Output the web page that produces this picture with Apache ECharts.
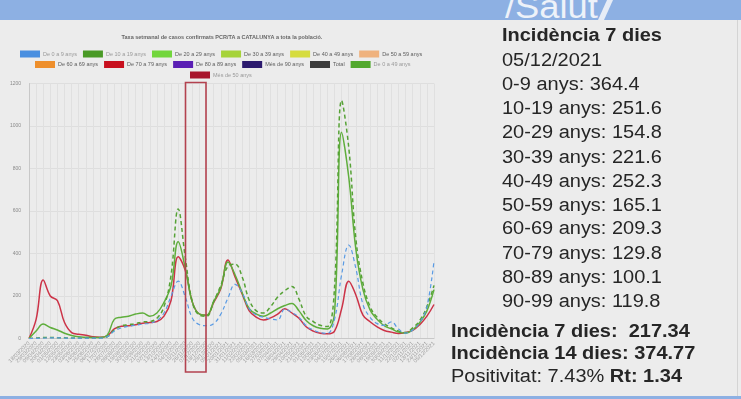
<!DOCTYPE html>
<html>
<head>
<meta charset="utf-8">
<script src="https://cdn.jsdelivr.net/npm/echarts@6/dist/echarts.min.js"></script>
<style>
  html, body { margin: 0; padding: 0; }
  #wrap { position: relative; width: 741px; height: 399px; background: #ececec; overflow: hidden;
          font-family: "Liberation Sans", Arial, sans-serif; }
  #banner { position: absolute; left: 0; top: 0; width: 741px; height: 20px; background: #8db0e3; overflow: hidden; }
  #salut { position: absolute; left: 505px; top: -10px; font-size: 33px; line-height: 33px; color: #eef2f9;
           transform: scaleX(1.1); transform-origin: left top; }
  #slash { position: absolute; left: 598px; top: 0; width: 20px; height: 20px; background: #e6ecf6;
           clip-path: polygon(9px 0, 15px 0, 6px 20px, 0 20px); }
  #chart { position: absolute; left: 0; top: 0; width: 741px; height: 399px; }
  #bottomline { position: absolute; left: 0; top: 396px; width: 741px; height: 3px; background: #8db0e3; }
  #rightedge { position: absolute; left: 737px; top: 20px; width: 1px; height: 376px; background: #d4d4d4; }
  .ln { position: absolute; font-size: 18px; line-height: 18px; color: #262626; white-space: pre;
        transform: scaleX(1.11); transform-origin: left top; }
  .b { font-weight: bold; }
</style>
</head>
<body>
<div id="wrap">
  <div id="banner"><div id="salut">/Salut</div><div id="slash"></div></div>
  <div id="chart"></div>
  <div id="bottomline"></div>
  <div id="rightedge"></div>
  <!-- panell de dades -->
  <div class="ln b" style="left:502px;top:26px">Incidència 7 dies</div>
  <div class="ln" style="left:502px;top:51px">05/12/2021</div>
  <div class="ln" style="left:502px;top:75px">0-9 anys: 364.4</div>
  <div class="ln" style="left:502px;top:99px">10-19 anys: 251.6</div>
  <div class="ln" style="left:502px;top:123px">20-29 anys: 154.8</div>
  <div class="ln" style="left:502px;top:148px">30-39 anys: 221.6</div>
  <div class="ln" style="left:502px;top:172px">40-49 anys: 252.3</div>
  <div class="ln" style="left:502px;top:196px">50-59 anys: 165.1</div>
  <div class="ln" style="left:502px;top:219px">60-69 anys: 209.3</div>
  <div class="ln" style="left:502px;top:244px">70-79 anys: 129.8</div>
  <div class="ln" style="left:502px;top:268px">80-89 anys: 100.1</div>
  <div class="ln" style="left:502px;top:292px">90-99 anys: 119.8</div>
  <div class="ln b" style="left:451px;top:322px">Incidència 7 dies:  217.34</div>
  <div class="ln b" style="left:451px;top:344px">Incidència 14 dies: 374.77</div>
  <div class="ln" style="left:451px;top:367px">Positivitat: 7.43% <b>Rt: 1.34</b></div>
</div>

<script>
// dates (category axis)
const categories = [
  '18/03/2020', '29/03/2020', '09/04/2020', '20/04/2020', '01/05/2020', '12/05/2020',
  '23/05/2020', '03/06/2020', '14/06/2020', '25/06/2020', '06/07/2020', '17/07/2020',
  '28/07/2020', '08/08/2020', '19/08/2020', '30/08/2020', '10/09/2020', '21/09/2020',
  '02/10/2020', '13/10/2020', '24/10/2020', '04/11/2020', '15/11/2020', '26/11/2020',
  '07/12/2020', '18/12/2020', '29/12/2020', '09/01/2021', '20/01/2021', '31/01/2021',
  '11/02/2021', '22/02/2021', '05/03/2021', '16/03/2021', '27/03/2021', '07/04/2021',
  '18/04/2021', '29/04/2021', '10/05/2021', '21/05/2021', '01/06/2021', '12/06/2021',
  '23/06/2021', '04/07/2021', '15/07/2021', '26/07/2021', '06/08/2021', '17/08/2021',
  '28/08/2021', '08/09/2021', '19/09/2021', '30/09/2021', '11/10/2021', '22/10/2021',
  '02/11/2021', '13/11/2021', '24/11/2021', '05/12/2021'
]

// taxa setmanal per grups d'edat
const de0a9 = [
  0, 1, 2, 3, 3, 2, 2, 2, 2, 2, 2, 8,
  35, 50, 58, 62, 68, 72, 85, 120, 200, 270, 195, 95,
  65, 60, 70, 115, 190, 255, 215, 140, 110, 100, 92, 88,
  138, 122, 100, 60, 40, 28, 24, 90, 300, 440, 330, 160,
  100, 70, 62, 78, 45, 25, 40, 75, 150, 365
]
const de10a19 = [
  0, 2, 5, 5, 4, 3, 2, 2, 2, 2, 3, 8,
  40, 60, 65, 70, 78, 80, 95, 150, 300, 610, 380, 170,
  110, 105, 175, 250, 340, 350, 290, 180, 130, 120, 150, 195,
  225, 245, 185, 105, 80, 62, 56, 240, 1120, 900, 470, 260,
  150, 100, 70, 50, 35, 28, 50, 85, 150, 250
]
const de0a49 = [
  0, 35, 68, 52, 40, 25, 14, 8, 6, 5, 5, 15,
  90, 100, 105, 115, 120, 105, 120, 170, 250, 455, 330, 170,
  115, 110, 175, 240, 360, 300, 215, 140, 115, 105, 120, 140,
  155, 165, 130, 85, 60, 48, 45, 120, 970, 760, 420, 230,
  135, 90, 60, 45, 30, 25, 40, 75, 130, 230
]
const mesDe50 = [
  0, 90, 275, 200, 178, 75, 28, 20, 15, 8, 6, 12,
  45, 58, 60, 65, 72, 75, 80, 105, 180, 385, 320, 170,
  115, 110, 170, 235, 370, 290, 210, 130, 100, 87, 97, 115,
  140, 120, 95, 55, 35, 25, 22, 35, 140, 270, 205, 110,
  79, 55, 38, 30, 24, 28, 38, 65, 105, 160
]

// files de la llegenda
const legendRow1 = ['De 0 a 9 anys', 'De 10 a 19 anys', 'De 20 a 29 anys', 'De 30 a 39 anys', 'De 40 a 49 anys', 'De 50 a 59 anys']
const legendRow2 = ['De 60 a 69 anys', 'De 70 a 79 anys', 'De 80 a 89 anys', 'Més de 90 anys', 'Total', 'De 0 a 49 anys']
const legendRow3 = ['Més de 50 anys']

const colors = {
  'De 0 a 9 anys': '#4a8fe0',
  'De 10 a 19 anys': '#4a9a26',
  'De 20 a 29 anys': '#72d63c',
  'De 30 a 39 anys': '#a6d33a',
  'De 40 a 49 anys': '#d6dc3e',
  'De 50 a 59 anys': '#efb27e',
  'De 60 a 69 anys': '#ee8f2c',
  'De 70 a 79 anys': '#c8101e',
  'De 80 a 89 anys': '#5a1fb4',
  'Més de 90 anys': '#2c1a6e',
  'Total': '#3c3c3c',
  'De 0 a 49 anys': '#52a82e',
  'Més de 50 anys': '#a8142c'
}
// series amagades (ratllades a la llegenda)
const hidden = ['De 20 a 29 anys', 'De 30 a 39 anys', 'De 40 a 49 anys', 'De 50 a 59 anys',
  'De 60 a 69 anys', 'De 70 a 79 anys', 'De 80 a 89 anys', 'Més de 90 anys', 'Total']

const chart = echarts.init(document.getElementById('chart'))

const legendItems = (names) => names.map(n => ({
  name: n,
  textStyle: { color: hidden.includes(n) ? '#5c5c5c' : '#999' }
}))
const legendBase = {
  orient: 'horizontal',
  icon: 'rect',
  itemWidth: 20,
  itemHeight: 7,
  itemGap: 6,
  padding: 0,
  selectedMode: false,
  textStyle: { fontSize: 5.5, padding: [0, 0, 0, -2] }
}

const lineSeries = (name, data, dashed, width, lineColor) => ({
  name: name,
  type: 'line',
  data: data,
  smooth: 0.4,
  symbol: 'none',
  color: colors[name],
  lineStyle: { color: lineColor, width: width, type: dashed ? [4, 3] : 'solid' }
})

const option = {
  animation: false,
  title: {
    text: 'Taxa setmanal de casos confirmats PCR/TA a CATALUNYA a tota la població.',
    left: 222,
    top: 34.5,
    padding: 0,
    textAlign: 'center',
    textStyle: { fontSize: 5.5, color: '#666', fontWeight: 'bold' }
  },
  legend: [
    Object.assign({}, legendBase, { left: 20, top: 50.5, data: legendItems(legendRow1) }),
    Object.assign({}, legendBase, { left: 35, top: 61, data: legendItems(legendRow2) }),
    Object.assign({}, legendBase, { left: 190, top: 71.5, data: legendItems(legendRow3) })
  ],
  grid: { left: 29, right: 307, top: 83.5, bottom: 60.5 },
  xAxis: {
    type: 'category',
    boundaryGap: false,
    data: categories,
    axisLine: { lineStyle: { color: '#c8c8c8' } },
    axisTick: { show: false },
    axisLabel: { interval: 0, rotate: 45, fontSize: 5.5, color: '#9c9c9c', margin: 4 },
    splitLine: { show: true, lineStyle: { color: '#e0e0e0', width: 1 } }
  },
  yAxis: {
    type: 'value',
    min: 0,
    max: 1200,
    interval: 200,
    axisLine: { show: true, lineStyle: { color: '#c8c8c8' } },
    axisTick: { show: false },
    axisLabel: { fontSize: 5, color: '#8a8a8a', margin: 8, formatter: (v) => String(v) },
    splitLine: { lineStyle: { color: '#dedede' } }
  },
  series: [
    lineSeries('Més de 50 anys', mesDe50, false, 1.5, '#cc3347'),
    lineSeries('De 0 a 49 anys', de0a49, false, 1.5, '#5fae3c'),
    lineSeries('De 10 a 19 anys', de10a19, true, 1.5, '#56a236'),
    lineSeries('De 0 a 9 anys', de0a9, true, 1.2, '#5a9be4')
  ].concat(hidden.map(n => ({ name: n, type: 'line', data: [], color: colors[n] }))),
  graphic: [
    {
      // requadre vermell afegit sobre el gràfic
      type: 'rect',
      shape: { x: 185.5, y: 82.5, width: 20.5, height: 289.5 },
      style: { fill: null, stroke: '#b3424f', lineWidth: 1.6 },
      z: 100
    }
  ]
}

chart.setOption(option)
</script>
</body>
</html>
